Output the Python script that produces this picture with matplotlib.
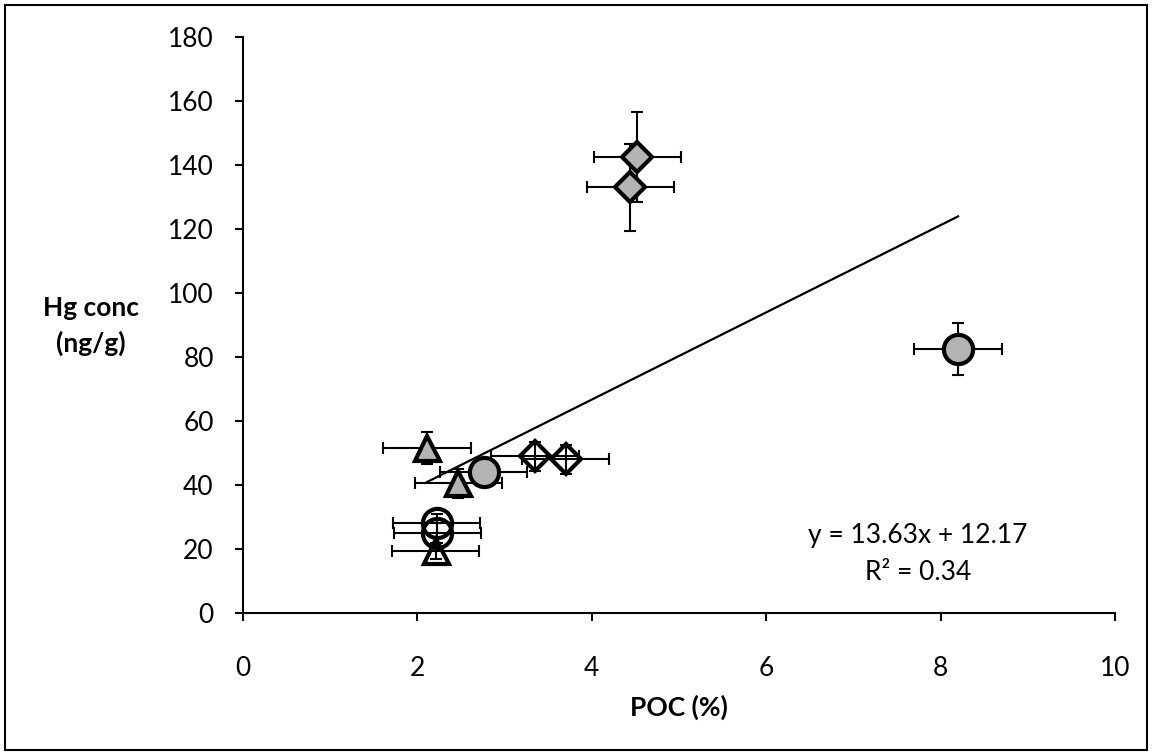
import matplotlib.pyplot as plt
from matplotlib.patches import Rectangle

plt.rcParams['font.family'] = ['Lato', 'DejaVu Sans']

# POC (%) vs Hg conc (ng/g), grouped by marker style
cinza_losango_x = [4.52, 4.44]
cinza_losango_y = [142.5, 133.0]
cinza_losango_ey = [14.0, 13.5]

cinza_circulo_x = [8.20, 2.76]
cinza_circulo_y = [82.5, 44.0]
cinza_circulo_ey = [8.0, 4.0]

cinza_triangulo_x = [2.11, 2.47]
cinza_triangulo_y = [51.5, 40.5]
cinza_triangulo_ey = [5.0, 4.5]

aberto_losango_x = [3.35, 3.70]
aberto_losango_y = [49.0, 48.0]
aberto_losango_ey = [4.5, 4.5]

aberto_circulo_x = [2.22, 2.23]
aberto_circulo_y = [28.0, 25.0]
aberto_circulo_ey = [3.0, 3.0]

aberto_triangulo_x = [2.21]
aberto_triangulo_y = [19.5]
aberto_triangulo_ey = [2.5]

erro_x = 0.5

# linha de tendência
inclinacao = 13.63
intercepto = 12.17
r2 = 0.34

fig = plt.figure(figsize=(11.52, 7.55), dpi=100)
ax = fig.add_axes([0.2109, 0.1881, 0.7570, 0.7629])

cinza = '#b4b4b4'
todos_x = (cinza_losango_x + cinza_circulo_x + cinza_triangulo_x +
           aberto_losango_x + aberto_circulo_x + aberto_triangulo_x)
x0, x1 = min(todos_x), max(todos_x)
ax.plot([x0, x1], [inclinacao * x0 + intercepto, inclinacao * x1 + intercepto],
        color='black', lw=1.6, zorder=2)

series = [
    (cinza_losango_x, cinza_losango_y, cinza_losango_ey, 'D', 15, cinza),
    (cinza_circulo_x, cinza_circulo_y, cinza_circulo_ey, 'o', 21, cinza),
    (cinza_triangulo_x, cinza_triangulo_y, cinza_triangulo_ey, '^', 18, cinza),
    (aberto_losango_x, aberto_losango_y, aberto_losango_ey, 'D', 15, 'none'),
    (aberto_circulo_x, aberto_circulo_y, aberto_circulo_ey, 'o', 21, 'none'),
    (aberto_triangulo_x, aberto_triangulo_y, aberto_triangulo_ey, '^', 18, 'none'),
]
for xs, ys, eys, m, ms, fc in series:
    ax.errorbar(xs, ys, xerr=erro_x, yerr=eys, fmt='none', ecolor='black',
                elinewidth=1.5, capsize=4, capthick=1.5, zorder=3)
    ax.plot(xs, ys, linestyle='none', marker=m, markersize=ms,
            markerfacecolor=fc, markeredgecolor='black', markeredgewidth=3,
            zorder=4)

ax.set_xlim(0, 10)
ax.set_ylim(0, 180)
ax.set_xticks(range(0, 11, 2))
ax.set_yticks(range(0, 181, 20))
ax.tick_params(axis='both', direction='out', length=6, width=1.5,
               labelsize=19)
ax.tick_params(axis='x', pad=25)
ax.tick_params(axis='y', pad=15)
for lado in ['top', 'right']:
    ax.spines[lado].set_visible(False)
for lado in ['left', 'bottom']:
    ax.spines[lado].set_linewidth(1.5)

ax.set_xlabel('POC (%)', fontsize=19, fontweight='bold', labelpad=10)
fig.text(0.079, 0.568, 'Hg conc\n(ng/g)', fontsize=19, fontweight='bold',
         ha='center', va='center', linespacing=1.5)

ax.text(0.774, 0.135, f'y = {inclinacao:.2f}x + {intercepto:.2f}',
        transform=ax.transAxes, ha='center', va='center', fontsize=19)
ax.text(0.774, 0.071, f'R² = {r2:.2f}', transform=ax.transAxes,
        ha='center', va='center', fontsize=19)

# moldura em volta da figura
fig.patches.append(Rectangle((0.004, 0.006), 0.992, 0.988,
                             transform=fig.transFigure, fill=False,
                             edgecolor='black', linewidth=1.5))

fig.savefig('out.png', dpi=100)
